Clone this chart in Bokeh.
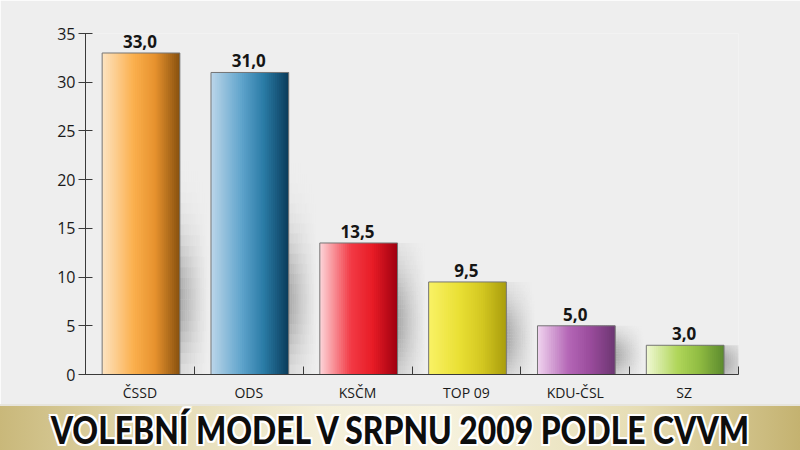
import math
from bokeh.plotting import figure
from bokeh.models import Range1d, FixedTicker, Label, Div
from bokeh.layouts import column
from bokeh.core.properties import value
from bokeh.embed import file_html
from bokeh.resources import INLINE

# ---------------- data ----------------
parties = ["ČSSD", "ODS", "KSČM", "TOP 09", "KDU-ČSL", "SZ"]
votes = [33.0, 31.0, 13.5, 9.5, 5.0, 3.0]
y_ticks = [0, 5, 10, 15, 20, 25, 30, 35]
unit_label = "%"
title = "VOLEBNÍ MODEL V SRPNU 2009 PODLE CVVM"

# ---------------- style ----------------
bar_stops = [
    ["#fde4c2", "#fbb04e", "#e7922e", "#87500e"],
    ["#bcd6ea", "#5ea3cb", "#2a7ba6", "#0a3c5a"],
    ["#fdd6da", "#f23a45", "#e81c26", "#9e0010"],
    ["#f9f266", "#e9df34", "#d4c822", "#a99d0c"],
    ["#f0d4ef", "#b466b6", "#9a4c9c", "#6c3672"],
    ["#f0f8d4", "#b0d65a", "#90bc42", "#5c8a2e"],
]
stop_pos = [0.0, 0.4, 0.68, 1.0]
BG = "#eeeeee"
FONT = "Open Sans"
W = 800
BAR_L, BAR_R = 0.153, 0.867


def hex2rgb(h):
    h = h.lstrip("#")
    return [int(h[i:i + 2], 16) for i in (0, 2, 4)]


def rgb2hex(c):
    return "#%02x%02x%02x" % tuple(int(round(max(0, min(255, v)))) for v in c)


def grad(stops, pos, t):
    for k in range(len(pos) - 1):
        if t <= pos[k + 1] or k == len(pos) - 2:
            a, b = hex2rgb(stops[k]), hex2rgb(stops[k + 1])
            u = (t - pos[k]) / (pos[k + 1] - pos[k])
            u = max(0.0, min(1.0, u))
            return rgb2hex([a[j] + (b[j] - a[j]) * u for j in range(3)])


p = figure(width=W, height=404, x_range=Range1d(0, len(parties)),
           y_range=Range1d(0, y_ticks[-1]), output_backend="svg",
           toolbar_location=None, min_border_left=85, min_border_right=62,
           min_border_top=33, min_border_bottom=27)
p.background_fill_color = BG
p.border_fill_color = BG
p.outline_line_color = None
p.grid.visible = False
p.margin = 0

# soft shadows to the right of the bars
sl, sr, sb, st, sa = [], [], [], [], []
NX, NY, SW = 16, 30, 0.27
for i, v in enumerate(votes):
    c = min(0.4 * v, 7.5)
    sy = max(1.4, min(0.3 * v, 4.5))
    for j in range(NX):
        x0 = i + BAR_R + SW * j / NX
        x1 = i + BAR_R + SW * (j + 1) / NX
        fx = (1 - (j + 0.5) / NX) ** 1.3
        for k in range(NY):
            y0 = v * k / NY
            y1 = v * (k + 1) / NY
            ym = 0.5 * (y0 + y1)
            fy = math.exp(-0.5 * ((ym - c) / sy) ** 2)
            sl.append(x0); sr.append(x1); sb.append(y0); st.append(y1)
            sa.append(0.45 * fx * fy)
p.quad(left=sl, right=sr, bottom=sb, top=st, fill_color="#505050",
       fill_alpha=sa, line_color=None)

# gradient bars (overlapping strips to avoid seams)
N = 40
gl, gr, gb, gt, gc = [], [], [], [], []
wbar = BAR_R - BAR_L
for i, v in enumerate(votes):
    for k in range(N):
        t = (k + 0.5) / N
        gl.append(i + BAR_L + wbar * k / N)
        gr.append(i + BAR_L + wbar * min(1.0, (k + 1.8) / N))
        gb.append(0)
        gt.append(v)
        gc.append(grad(bar_stops[i], stop_pos, t))
p.quad(left=gl, right=gr, bottom=gb, top=gt, fill_color=gc, line_color=None)
p.quad(left=[i + BAR_L for i in range(len(votes))],
       right=[i + BAR_R for i in range(len(votes))],
       bottom=[0] * len(votes), top=votes, fill_color=None,
       line_color="#757575", line_width=1)

# value labels
p.text(x=[i + 0.5 for i in range(len(votes))], y=votes,
       text=[f"{v:.1f}".replace(".", ",") for v in votes],
       y_offset=-5, text_align="center", text_baseline="bottom",
       text_font=value(FONT), text_font_size="17px", text_color="#151515",
       text_font_style="bold")

# axes
yax = p.yaxis[0]
yax.ticker = FixedTicker(ticks=y_ticks, minor_ticks=[])
yax.major_tick_in = 7
yax.major_tick_out = 7
yax.minor_tick_line_color = None
yax.axis_line_color = "#3a3a3a"
yax.major_tick_line_color = "#3a3a3a"
yax.major_label_text_font = FONT
yax.major_label_text_font_size = "16px"
yax.major_label_text_color = "#1a1a1a"
yax.major_label_standoff = 3

xax = p.xaxis[0]
xax.ticker = FixedTicker(ticks=[i + 0.5 for i in range(len(parties))],
                         minor_ticks=[i + 1 for i in range(len(parties))])
xax.major_label_overrides = {i + 0.5: name for i, name in enumerate(parties)}
xax.major_tick_in = 0
xax.major_tick_out = 0
xax.minor_tick_in = 8
xax.minor_tick_out = 0
xax.minor_tick_line_color = "#3a3a3a"
xax.axis_line_color = "#3a3a3a"
xax.major_label_text_font = FONT
xax.major_label_text_font_size = "14px"
xax.major_label_text_color = "#1a1a1a"
xax.major_label_standoff = 8

p.add_layout(Label(x=-0.2, y=32.8, text=unit_label, text_align="center",
                   text_baseline="middle", text_font=FONT,
                   text_font_size="12px", text_color="#1a1a1a"))

# ---------------- banner ----------------
outline = ", ".join(f"{dx}px {dy}px 0 #ffffff" for dx, dy in
                    [(-2, 0), (2, 0), (0, -2), (0, 2), (-2, -2), (2, 2),
                     (-2, 2), (2, -2)])
banner_html = (
    '<div style="width:800px;height:46px;box-sizing:border-box;'
    'border-top:2px solid #e6e4dc;'
    'background:linear-gradient(to right,#c9b87a 0%,#e2d8ae 18%,#f4efd9 40%,'
    '#f6f2de 55%,#e6ddb4 80%,#c4b270 100%);'
    'display:flex;align-items:center;justify-content:center;overflow:hidden;">'
    '<span style="display:inline-block;font-family:Lato,\'DejaVu Sans\';'
    'font-weight:900;font-size:37px;line-height:40px;color:#0d0d0d;'
    'white-space:nowrap;transform:scaleX(0.86);margin-top:3px;'
    f'text-shadow:{outline};">{title}</span></div>'
)
b = Div(text=banner_html, width=W, height=46, margin=0)

layout = column(p, b, spacing=0)
open("out.html", "w").write(file_html(layout, INLINE))
